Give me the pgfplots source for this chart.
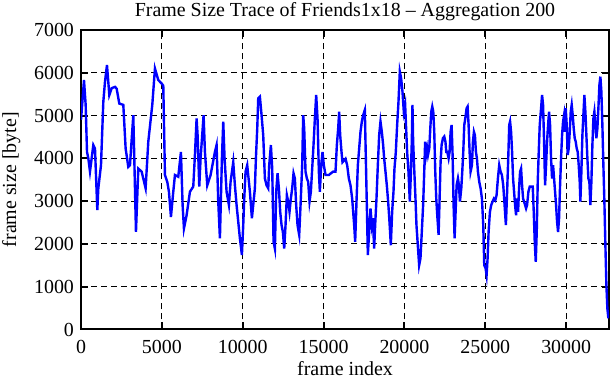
\documentclass[border=0pt]{standalone}
\usepackage{fontspec}
\setmainfont{Liberation Serif}
\usepackage{pgfplots}
\pgfplotsset{compat=1.18}
\usetikzlibrary{calc}
\begin{document}
\begin{tikzpicture}
\begin{axis}[
  scale only axis, width=264bp, height=149.75bp,
  xmin=0, xmax=32650, ymin=0, ymax=7000,
  xtick={0,5000,...,30000}, ytick={0,1000,...,7000},
  scaled x ticks=false, scaled y ticks=false,
  /pgf/number format/1000 sep={},
  /pgf/number format/assume math mode=true,
  grid=major, grid style={black, dash pattern=on 3bp off 2bp, line width=0.5bp},
  axis line style={line width=1bp},
  tick style={black, line width=1bp}, major tick length=3.5bp, tick align=inside,
  title={Frame Size Trace of Friends1x18 -- Aggregation 200},
  title style={yshift=-5bp},
  xticklabel style={yshift=-2bp},
  xlabel={frame index}, ylabel={frame size [byte]},
  xlabel style={yshift=3bp}, ylabel style={yshift=0bp},
]
\addplot[blue, line width=1.2bp, mark=none] coordinates {
(0,4900)(82,5300)(185,5830)(288,5250)(371,4150)(453,4000)(556,3690)(762,4310)(865,4230)(1009,2790)(1071,3300)(1236,3840)(1380,5320)(1483,5790)(1607,6180)(1751,5480)(1895,5640)(2101,5670)(2204,5630)(2369,5280)(2616,5250)(2760,4230)(2925,3800)(3028,3840)(3234,5010)(3399,2280)(3543,3760)(3749,3690)(3996,3300)(4161,4390)(4408,5250)(4573,6100)(4779,5830)(4985,5750)(5088,5700)(5191,3610)(5335,3450)(5438,3220)(5562,2630)(5706,3220)(5809,3610)(6015,3570)(6180,4150)(6283,2910)(6366,2360)(6530,2670)(6736,3220)(6942,3340)(7045,4080)(7148,4930)(7210,4540)(7313,3340)(7395,4000)(7581,5010)(7663,4150)(7807,3370)(8013,3610)(8281,4150)(8384,4310)(8487,2990)(8590,2130)(8714,4000)(8796,4860)(8878,4000)(9002,3220)(9146,2910)(9249,3450)(9414,3910)(9517,3370)(9620,2910)(9723,2520)(9826,2130)(9950,1740)(10032,2440)(10094,3060)(10176,3690)(10279,3840)(10444,3220)(10568,2600)(10753,3300)(10815,4000)(10898,4700)(10959,5400)(11062,5440)(11165,5010)(11268,4540)(11371,3530)(11474,3370)(11577,3300)(11639,3840)(11742,4310)(11824,3760)(11907,2050)(11989,1890)(12071,3220)(12154,3650)(12236,3300)(12318,2750)(12401,2440)(12483,2280)(12566,1890)(12648,2440)(12730,3140)(12813,2990)(12895,2750)(12977,3060)(13060,3300)(13142,3650)(13225,3530)(13307,2900)(13390,2440)(13493,2210)(13575,2900)(13678,3840)(13740,5010)(13802,4700)(13884,3690)(13967,3530)(14049,3450)(14131,2990)(14214,3220)(14296,3760)(14378,4310)(14461,4930)(14543,5480)(14626,4930)(14708,3690)(14770,3220)(14853,3840)(14935,4150)(15017,3840)(15120,3610)(15326,3610)(15450,3650)(15594,3690)(15738,3690)(15821,4310)(15903,4700)(15965,5090)(16027,4540)(16109,4150)(16171,3910)(16357,3990)(16459,3840)(16562,3530)(16665,3370)(16768,3060)(16830,2750)(16892,2440)(16954,2050)(17036,2990)(17119,3840)(17201,4230)(17283,4620)(17366,4860)(17448,5010)(17551,5130)(17613,4000)(17675,2900)(17737,1740)(17819,2280)(17901,2830)(17984,2440)(18046,2600)(18128,1890)(18190,2440)(18272,3060)(18355,3840)(18437,4540)(18519,4860)(18602,4620)(18684,4310)(18746,4000)(18828,3690)(18911,3370)(18993,2990)(19075,2520)(19158,1970)(19240,2750)(19323,3220)(19384,3760)(19467,4150)(19549,4780)(19632,5320)(19714,6030)(19796,5870)(19879,5560)(19961,5090)(20044,5250)(20105,4700)(20167,4150)(20250,3690)(20332,2990)(20394,3610)(20456,4390)(20497,5250)(20538,4390)(20621,3610)(20683,3060)(20744,2440)(20827,1970)(20909,1500)(20991,1660)(21074,2280)(21156,2910)(21218,3610)(21280,4390)(21342,4080)(21404,4230)(21457,4080)(21535,4230)(21597,4690)(21659,5090)(21721,5210)(21783,5090)(21844,4620)(21906,3690)(21968,3060)(22030,2670)(22112,2210)(22174,3060)(22236,3920)(22298,4310)(22380,4470)(22463,4510)(22536,4390)(22587,4150)(22649,4150)(22731,4000)(22793,4150)(22855,4620)(22917,4780)(22978,4080)(23040,2910)(23102,2130)(23164,2750)(23226,3370)(23308,3530)(23370,3370)(23432,2990)(23515,3300)(23576,3690)(23638,4150)(23700,4780)(23762,4930)(23844,5170)(23906,5210)(23968,4780)(24030,4150)(24091,3690)(24174,3840)(24236,4390)(24297,4620)(24359,4540)(24421,4150)(24483,4000)(24545,3690)(24627,3450)(24709,3300)(24792,3060)(24874,2440)(24936,1500)(25018,1430)(25080,1270)(25142,1660)(25204,2280)(25286,2750)(25369,2910)(25451,2990)(25533,3060)(25616,3020)(25698,3140)(25780,3530)(25862,3840)(25945,3690)(26027,3610)(26110,3370)(26192,2910)(26274,2440)(26357,3300)(26419,4000)(26480,4780)(26533,4860)(26595,4620)(26657,4150)(26718,3530)(26780,3220)(26842,2910)(26904,2670)(26966,3060)(27028,2750)(27089,3300)(27151,3690)(27213,3760)(27275,3370)(27337,3060)(27398,2990)(27460,2910)(27522,2830)(27584,2910)(27666,3220)(27749,3340)(27934,3340)(27996,2750)(28058,2050)(28120,1580)(28181,2280)(28243,3450)(28305,4150)(28367,4780)(28449,5170)(28511,5480)(28573,5250)(28635,4390)(28697,3370)(28758,3840)(28820,4390)(28882,4780)(28944,5090)(29006,4780)(29067,4000)(29129,3530)(29191,3840)(29253,3530)(29315,3220)(29376,2910)(29438,2520)(29500,2280)(29562,2600)(29624,3370)(29685,4000)(29747,4540)(29809,4860)(29871,5010)(29933,4620)(29974,5170)(30035,4780)(30097,4080)(30159,4230)(30221,4620)(30283,5090)(30344,5250)(30406,5010)(30468,4700)(30530,4470)(30592,4390)(30653,4230)(30715,4150)(30777,3840)(30839,3450)(30880,2990)(30942,3690)(31004,4540)(31065,5010)(31127,5480)(31189,5090)(31251,4540)(31313,4000)(31375,3530)(31436,3450)(31498,2910)(31560,3450)(31622,4310)(31684,4930)(31746,5090)(31807,4780)(31869,4470)(31931,4700)(31993,5170)(32055,5710)(32117,5910)(32178,5560)(32240,4780)(32302,3840)(32364,2990)(32426,1970)(32488,1040)(32549,490)(32611,260)
};
\end{axis}
\pgfresetboundingbox
\path ($(current axis.south west)+(-40.5bp,-25.25bp)$) rectangle ($(current axis.north east)+(1bp,15bp)$);
\end{tikzpicture}
\end{document}
